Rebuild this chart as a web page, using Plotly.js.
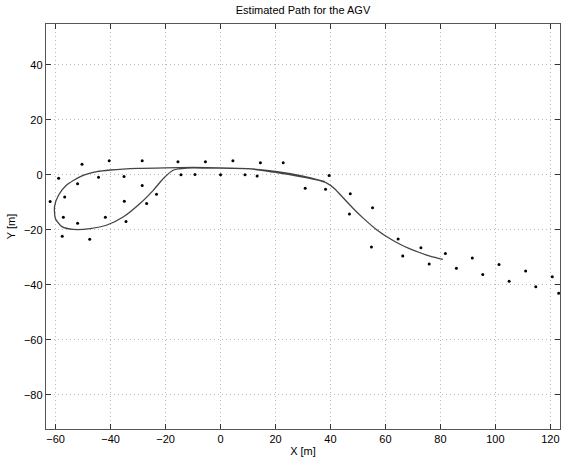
<!DOCTYPE html>
<html>
<head>
<meta charset="utf-8">
<script src="https://cdn.plot.ly/plotly-3.0.1.min.js"></script>
<style>html,body{margin:0;padding:0;background:#fff;}#chart{width:561px;height:464px;}</style>
</head>
<body>
<div id="chart"></div>
<script>
// Landmark observations
var landmarkX = [-62, -58.9, -50.4, -40.5, -28.5, -15.5, -5.5, -52, -44.4, -35.1, -28.5, -56.7, -35, -26.9, -23.3, -14.4, -9.3, 0, -57.2, -52, -41.9, -34.4, -57.6, -47.6,
  4.5, 14.5, 22.8, 8.9, 13.3, 39.5, 30.8, 38.2, 47.2, 46.9, 55.3, 54.9, 64.6,
  66.3, 72.9, 75.9, 81.8, 85.8, 91.6, 95.4, 101.3, 105, 111, 114.7, 120.7, 123];
var landmarkY = [-9.7, -1.2, 3.9, 5.2, 5.2, 4.8, 4.8, -3.2, -0.8, -0.6, -3.8, -8, -9.6, -10.4, -7, 0.1, 0.2, 0.1, -15.4, -17.6, -15.4, -16.9, -22.3, -23.4,
  5.2, 4.4, 4.4, 0.1, -0.4, -0.2, -4.8, -5.2, -6.8, -14.2, -11.9, -26.2, -23.3,
  -29.5, -26.5, -32.4, -28.6, -33.9, -30.2, -36.2, -32.6, -38.7, -34.9, -40.7, -37, -43];

// Estimated AGV path
var pathX = [38, 30, 20, 10, 0, -10, -20, -30, -40, -45, -51, -55.9, -58.9, -60.4, -60.1, -57.7, -53.5, -47.4, -41.3, -35.3, -29.2, -24.4, -20.7, -17.1, -12.2, -5, 3.5, 10.8, 19.3, 29, 35, 38.5, 41.5, 44.5, 48, 52, 56.9, 61.7, 65.3, 68.5, 72.6, 76.5, 80.9];
var pathY = [-2.4, -0.4, 1.3, 2.3, 2.6, 2.7, 2.6, 2.4, 1.8, 1.2, -0.6, -3.6, -7.3, -11.5, -15.8, -18.8, -19.8, -19.5, -18.2, -15.2, -10.3, -5.5, -1.2, 1.8, 2.5, 2.5, 2.4, 2.2, 1.0, -0.6, -1.8, -2.9, -5.0, -8.2, -11.9, -15.8, -20, -23.2, -25.2, -26.7, -28.3, -29.6, -30.7];

var xTicks = [-60, -40, -20, 0, 20, 40, 60, 80, 100, 120];
var yTicks = [-80, -60, -40, -20, 0, 20, 40];

var font = {family: 'Liberation Sans, Arial, Helvetica, sans-serif', size: 11, color: '#000'};

var traces = [
  {x: landmarkX, y: landmarkY, mode: 'markers', type: 'scatter',
   marker: {color: '#000', size: 3}, hoverinfo: 'skip'},
  {x: pathX, y: pathY, mode: 'lines', type: 'scatter',
   line: {color: '#444', width: 1.3, shape: 'spline', smoothing: 0.6}, hoverinfo: 'skip'}
];

var axisCommon = {
  showline: true, linecolor: '#555', linewidth: 1.2, mirror: 'allticks',
  ticks: 'inside', ticklen: 5, tickcolor: '#333', tickwidth: 1,
  showgrid: true, gridcolor: '#b8b8b8', griddash: '1px,3px', gridwidth: 1,
  zeroline: false, tickfont: font, automargin: false
};

var layout = {
  width: 561, height: 464,
  margin: {l: 46, r: 1, t: 24, b: 35},
  paper_bgcolor: '#fff', plot_bgcolor: '#fff',
  showlegend: false,
  font: font,
  title: {text: 'Estimated Path for the AGV', font: font, x: 0.5, xref: 'paper', y: 1 - 10/464, yref: 'container', yanchor: 'middle'},
  xaxis: Object.assign({}, axisCommon, {range: [-63.5, 123.5], tickvals: xTicks,
    title: {text: 'X [m]', font: font, standoff: 2}}),
  yaxis: Object.assign({}, axisCommon, {range: [-92.4, 54.9], tickvals: yTicks,
    title: {text: 'Y [m]', font: font, standoff: 6}})
};

Plotly.newPlot('chart', traces, layout, {staticPlot: true, displayModeBar: false});
</script>
</body>
</html>
